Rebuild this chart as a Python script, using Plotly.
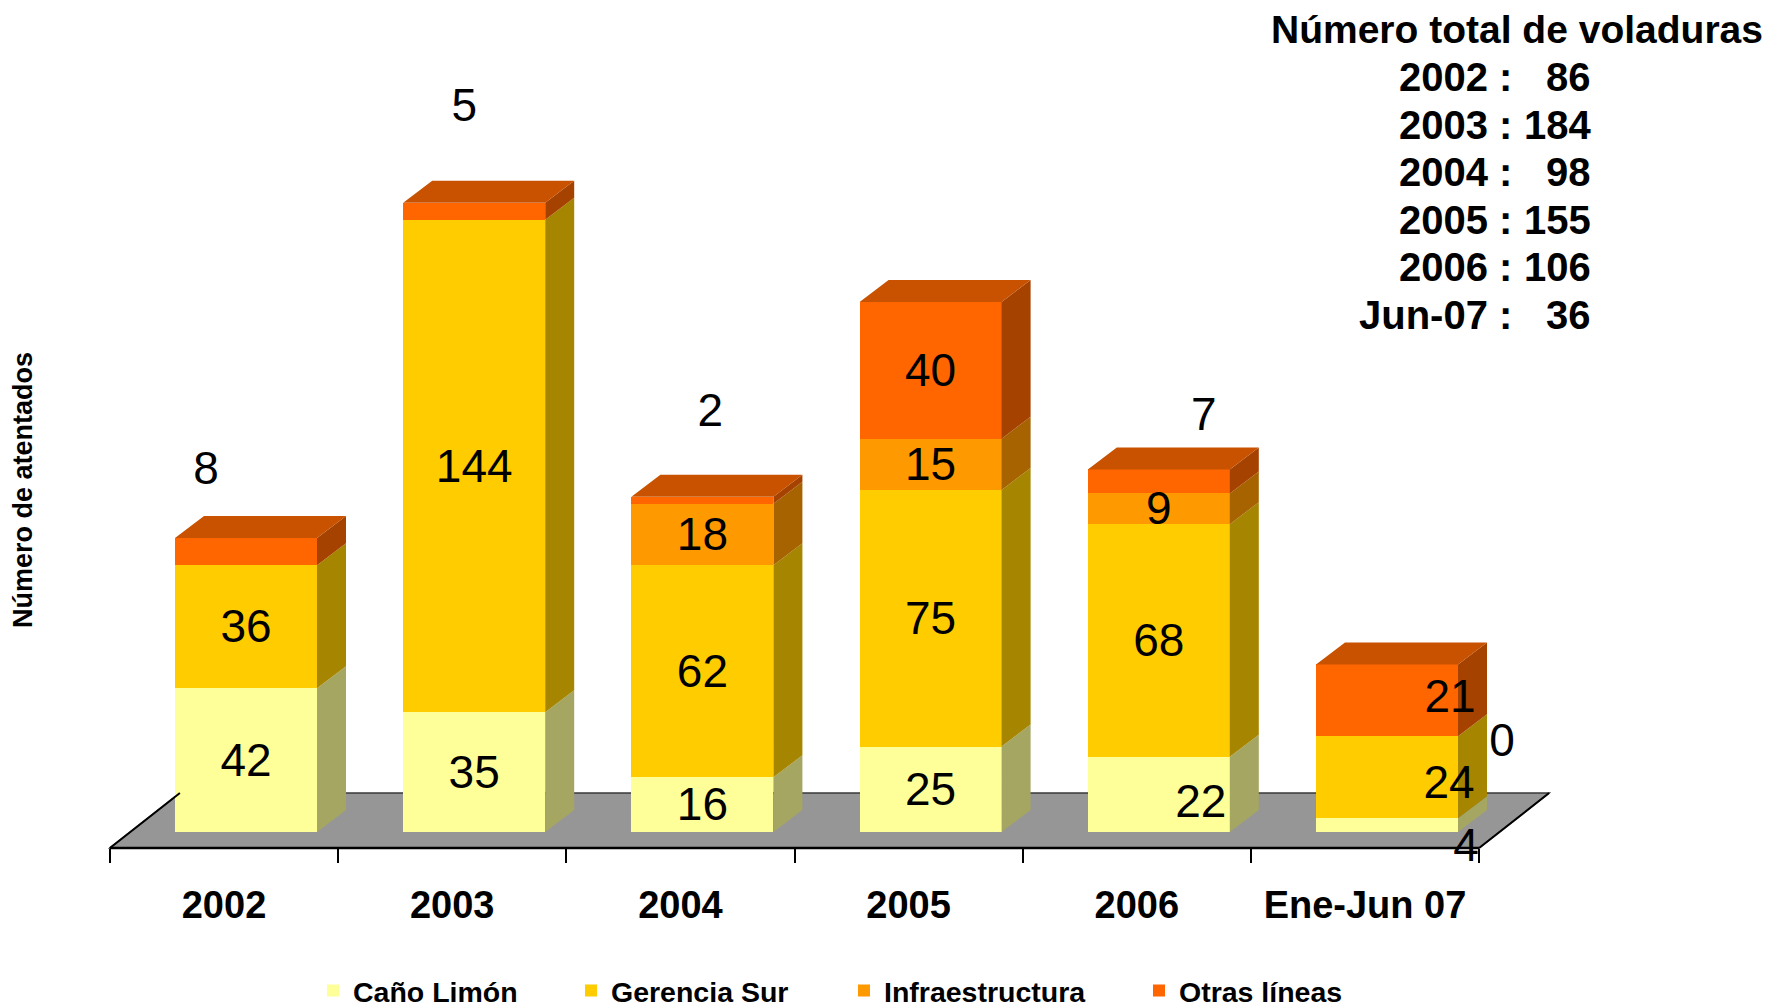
import plotly.graph_objects as go

# ---------------- data ----------------
categories = ["2002", "2003", "2004", "2005", "2006", "Ene-Jun 07"]
series_names = ["Caño Limón", "Gerencia Sur", "Infraestructura", "Otras líneas"]
cano_limon = [42, 35, 16, 25, 22, 4]
gerencia_sur = [36, 144, 62, 75, 68, 24]
infraestructura = [None, None, 18, 15, 9, 0]
otras_lineas = [8, 5, 2, 40, 7, 21]
series_values = [cano_limon, gerencia_sur, infraestructura, otras_lineas]

total_years = ["2002", "2003", "2004", "2005", "2006", "Jun-07"]
total_values = [86, 184, 98, 155, 106, 36]

# ---------------- style ----------------
FONT = "Liberation Sans, Arial, sans-serif"
FRONT = ["#FFFF99", "#FFCC00", "#FF9900", "#FF6600"]
SIDE = ["#A6A663", "#A68500", "#A66300", "#A64200"]
TOP = ["#CCCC7A", "#CCA300", "#CC7A00", "#C85200"]
FLOOR = "#969696"

# label shifts in pixels (dx right, dy down) relative to segment centre
LABEL_SHIFT = [
    [(0, 0), (0, 0), (0, 0), (0, 0), (42, 7), (79, 20)],
    [(0, 0), (0, 0), (0, 0), (0, 0), (0, 0), (62, 5)],
    [(0, 0), (0, 0), (0, 0), (0, 0), (0, 0), (115, 4)],
    [(-40, -83), (-10, -106), (8, -90), (0, 0), (45, -67), (63, -4)],
]
LABEL_BASE_DY = 4   # text baseline correction, px down

# the page body has an 8px margin: figure pixel = page pixel - 8
W, H = 1769, 1000
ML = 52
PX_X = 228.2       # pixels per category
PX_V = 3.42        # pixels per count
X0 = -(216 - ML) / PX_X
X1 = X0 + (W - ML) / PX_X
Y_DOM0 = 0.036
PLOT_H = H * (1 - Y_DOM0)
Y1 = 824 / PX_V
Y0 = Y1 - PLOT_H / PX_V
AXIS_Y = 840

BAR_SHIFT = 22 / PX_X
BAR_W = 142 / PX_X
DX = 29 / PX_X
DV = 22 / PX_V

FLOOR_FRONT = -(AXIS_Y - 824) / PX_V
FLOOR_BACK = FLOOR_FRONT + 55 / PX_V
FLOOR_DX = 70 / PX_X

n = len(categories)
xs = [i + BAR_SHIFT for i in range(n)]


def px(xf):
    return (xf - ML) / (W - ML)


def py(yf):
    return (H - yf) / H


LEGEND_IDS = ["legend", "legend2", "legend3", "legend4"]
LEGEND_X = [305, 563, 836, 1131]

fig = go.Figure()

# front faces (real stacked bars)
for name, vals, col, lid in zip(series_names, series_values, FRONT, LEGEND_IDS):
    fig.add_trace(go.Bar(
        x=xs, y=vals, width=BAR_W, name=name, legend=lid,
        marker=dict(color=col, line=dict(width=0)),
        hovertemplate=name + ": %{y}<extra></extra>",
    ))

# 3D side / top faces + labels
bottoms = [0] * n
side_x = [[] for _ in series_names]
side_y = [[] for _ in series_names]
lab_x = [[] for _ in series_names]
lab_y = [[] for _ in series_names]
lab_t = [[] for _ in series_names]
top_series = [None] * n
for s, vals in enumerate(series_values):
    for i, v in enumerate(vals):
        if v is None:
            continue
        a = bottoms[i]
        b = a + v
        xr = xs[i] + BAR_W / 2
        if v > 0:
            side_x[s] += [xr, xr + DX, xr + DX, xr, xr, None]
            side_y[s] += [a, a + DV, b + DV, b, a, None]
            top_series[i] = s
        dxp, dyp = LABEL_SHIFT[s][i]
        lab_x[s].append(xs[i] + dxp / PX_X)
        lab_y[s].append((a + b) / 2 - (dyp + LABEL_BASE_DY) / PX_V)
        lab_t[s].append(str(v))
        bottoms[i] = b

for s in range(len(series_names)):
    if side_x[s]:
        fig.add_trace(go.Scatter(
            x=side_x[s], y=side_y[s], mode="lines", fill="toself",
            fillcolor=SIDE[s], line=dict(width=0, color=SIDE[s]),
            showlegend=False, hoverinfo="skip"))

top_x = [[] for _ in series_names]
top_y = [[] for _ in series_names]
for i in range(n):
    s = top_series[i]
    t = bottoms[i]
    xl = xs[i] - BAR_W / 2
    xr = xs[i] + BAR_W / 2
    top_x[s] += [xl, xr, xr + DX, xl + DX, xl, None]
    top_y[s] += [t, t, t + DV, t + DV, t, None]
for s in range(len(series_names)):
    if top_x[s]:
        fig.add_trace(go.Scatter(
            x=top_x[s], y=top_y[s], mode="lines", fill="toself",
            fillcolor=TOP[s], line=dict(width=0, color=TOP[s]),
            showlegend=False, hoverinfo="skip"))

for s in range(len(series_names)):
    fig.add_trace(go.Scatter(
        x=lab_x[s], y=lab_y[s], text=lab_t[s], mode="text",
        textposition="middle center",
        textfont=dict(family=FONT, size=46, color="black"),
        showlegend=False, hoverinfo="skip"))

# floor
fxl, fxr = -0.5, n - 0.5
fig.add_shape(type="path", xref="x", yref="y", layer="below",
              path=(f"M{fxl},{FLOOR_FRONT} L{fxr},{FLOOR_FRONT} "
                    f"L{fxr + FLOOR_DX},{FLOOR_BACK} L{fxl + FLOOR_DX},{FLOOR_BACK} Z"),
              fillcolor=FLOOR, line=dict(color="#3a3a3a", width=1.5))
fig.add_shape(type="line", xref="x", yref="y", layer="above",
              x0=fxl, x1=fxr, y0=FLOOR_FRONT, y1=FLOOR_FRONT,
              line=dict(color="black", width=2.5))
fig.add_shape(type="line", xref="x", yref="y", layer="above",
              x0=fxl, x1=fxl + FLOOR_DX, y0=FLOOR_FRONT, y1=FLOOR_BACK,
              line=dict(color="black", width=2))
fig.add_shape(type="line", xref="x", yref="y", layer="above",
              x0=fxr, x1=fxr + FLOOR_DX, y0=FLOOR_FRONT, y1=FLOOR_BACK,
              line=dict(color="black", width=2))

# totals block, top right
fig.add_annotation(text="<b>Número total de voladuras</b>", x=px(1509), y=py(21),
                   xref="paper", yref="paper", showarrow=False,
                   xanchor="center", yanchor="middle",
                   font=dict(family=FONT, size=39, color="black"))
for k, (yr, tv) in enumerate(zip(total_years, total_values)):
    yc = 69 + 47.5 * k
    fig.add_annotation(text=f"<b>{yr} :</b>", x=px(1506), y=py(yc),
                       xref="paper", yref="paper", showarrow=False,
                       xanchor="right", yanchor="middle",
                       font=dict(family=FONT, size=40, color="black"))
    fig.add_annotation(text=f"<b>{tv}</b>", x=px(1585), y=py(yc),
                       xref="paper", yref="paper", showarrow=False,
                       xanchor="right", yanchor="middle",
                       font=dict(family=FONT, size=40, color="black"))

legend_common = dict(orientation="h", xanchor="left", yanchor="middle",
                     y=py(983), traceorder="normal",
                     font=dict(family=FONT, size=28.5, color="black", weight="bold"),
                     bgcolor="rgba(0,0,0,0)")

fig.update_layout(
    width=W, height=H, autosize=False,
    margin=dict(l=ML, r=0, t=0, b=0, autoexpand=False),
    paper_bgcolor="white", plot_bgcolor="white",
    barmode="stack",
    showlegend=True,
    legend=dict(x=px(LEGEND_X[0]), **legend_common),
    legend2=dict(x=px(LEGEND_X[1]), **legend_common),
    legend3=dict(x=px(LEGEND_X[2]), **legend_common),
    legend4=dict(x=px(LEGEND_X[3]), **legend_common),
    xaxis=dict(range=[X0, X1], domain=[0, 1], anchor="free", position=(H - AXIS_Y) / H,
               tickmode="array", tickvals=list(range(n)), ticktext=categories,
               ticks="outside", ticklen=0, tickcolor="white",
               showline=False, showgrid=False, zeroline=False,
               ticklabelstandoff=23,
               tickfont=dict(family=FONT, size=38, color="black", weight="bold"),
               minor=dict(tickmode="array", tickvals=[i - 0.5 for i in range(n + 1)],
                          ticks="outside", ticklen=14, tickwidth=2,
                          tickcolor="black", showgrid=False),
               fixedrange=True),
    yaxis=dict(range=[Y0, Y1], domain=[Y_DOM0, 1], showticklabels=False, ticks="",
               showgrid=False, zeroline=False, showline=False, fixedrange=True,
               title=dict(text="<b>Número de atentados</b>", standoff=21,
                          font=dict(family=FONT, size=27, color="black"))),
)

fig.write_html("out.html")
